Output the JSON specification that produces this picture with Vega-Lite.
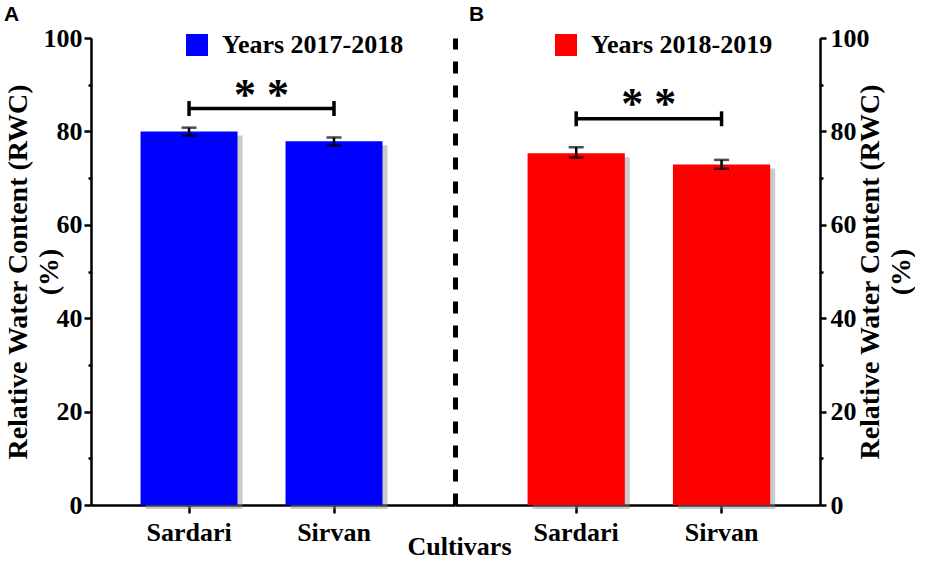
{
  "$schema": "https://vega.github.io/schema/vega-lite/v6.json",
  "background": "white",
  "padding": {"left": 4, "top": 4, "right": 0, "bottom": 0},
  "datasets": {
    "bars": [
      {"panel": "A", "cultivar": "Sardari", "period": "Years 2017-2018", "rwc": 80.0, "lo": 79.1, "hi": 80.8},
      {"panel": "A", "cultivar": "Sirvan", "period": "Years 2017-2018", "rwc": 77.9, "lo": 77.0, "hi": 78.7},
      {"panel": "B", "cultivar": "Sardari", "period": "Years 2018-2019", "rwc": 75.3, "lo": 74.4, "hi": 76.6},
      {"panel": "B", "cultivar": "Sirvan", "period": "Years 2018-2019", "rwc": 72.9, "lo": 72.0, "hi": 73.9}
    ],
    "sig": [
      {"panel": "A", "cultivar": "Sardari", "mid": 84.9, "lo": 83.3, "hi": 86.5},
      {"panel": "A", "cultivar": "Sirvan", "mid": 84.9, "lo": 83.3, "hi": 86.5},
      {"panel": "B", "cultivar": "Sardari", "mid": 82.7, "lo": 81.1, "hi": 84.3},
      {"panel": "B", "cultivar": "Sirvan", "mid": 82.7, "lo": 81.1, "hi": 84.3}
    ],
    "stars": [
      {"panel": "A", "cultivar": "Sardari", "label": "* *", "y": 84.8},
      {"panel": "B", "cultivar": "Sardari", "label": "* *", "y": 82.8}
    ]
  },
  "title": {
    "text": "Cultivars",
    "orient": "bottom",
    "anchor": "middle",
    "font": "'Times New Roman', 'Liberation Serif', serif",
    "fontSize": 26,
    "fontWeight": "bold",
    "color": "black",
    "offset": -11
  },
  "spacing": 0,
  "bounds": "flush",
  "resolve": {"scale": {"color": "independent"}},
  "hconcat": [
    {
      "width": 364,
      "height": 467,
      "title": {"text": "A", "anchor": "start", "frame": "bounds", "font": "'Liberation Sans', Arial, sans-serif", "fontSize": 21, "fontWeight": "bold", "color": "black", "offset": 0},
      "resolve": {"axis": {"y": "independent"}},
      "layer": [
        {
          "data": {"name": "bars"},
          "transform": [{"filter": "datum.panel === 'A'"}],
          "mark": {"type": "bar", "color": "#8c8c8c", "opacity": 0.45, "xOffset": 5, "yOffset": 4, "y2Offset": 4},
          "encoding": {
            "x": {"field": "cultivar", "type": "nominal", "sort": null, "scale": {"paddingInner": 0.331, "paddingOuter": 0.421, "align": 0.406}, "axis": {"title": null, "labelAngle": 0, "tickSize": 8, "labelPadding": 6}},
            "y": {"field": "rwc", "type": "quantitative", "scale": {"domain": [0, 100], "nice": false},
              "axis": {
                "values": [0, 10, 20, 30, 40, 50, 60, 70, 80, 90, 100],
                "labelExpr": "datum.value % 20 === 0 ? datum.label : ''",
                "tickSize": {"condition": {"test": "datum.value % 20 !== 0", "value": 3}, "value": 7},
                "title": ["Relative Water Content (RWC)", "(%)"],
                "titleFontSize": 28,
                "titleLineHeight": 31,
                "titlePadding": -20
              }
            }
          }
        },
        {
          "data": {"name": "bars"},
          "transform": [{"filter": "datum.panel === 'A'"}],
          "mark": {"type": "bar", "opacity": 1},
          "encoding": {
            "x": {"field": "cultivar", "type": "nominal", "sort": null},
            "y": {"field": "rwc", "type": "quantitative", "axis": null},
            "color": {"field": "period", "type": "nominal", "scale": {"range": ["#0000ff"]},
              "legend": {"orient": "none", "legendX": 93, "legendY": -6, "title": null, "symbolType": "square", "symbolSize": 484, "symbolStrokeWidth": 0, "symbolOpacity": 1, "labelOffset": 12, "padding": 0}
            }
          }
        },
        {
          "data": {"name": "bars"},
          "transform": [{"filter": "datum.panel === 'A'"}],
          "mark": {"type": "rule", "color": "black", "strokeWidth": 2.5},
          "encoding": {
            "x": {"field": "cultivar", "type": "nominal", "sort": null},
            "y": {"field": "lo", "type": "quantitative", "axis": null},
            "y2": {"field": "hi"}
          }
        },
        {
          "data": {"name": "bars"},
          "transform": [{"filter": "datum.panel === 'A'"}],
          "mark": {"type": "tick", "color": "black", "size": 15, "thickness": 2.5},
          "encoding": {
            "x": {"field": "cultivar", "type": "nominal", "sort": null},
            "y": {"field": "lo", "type": "quantitative", "axis": null}
          }
        },
        {
          "data": {"name": "bars"},
          "transform": [{"filter": "datum.panel === 'A'"}],
          "mark": {"type": "tick", "color": "black", "size": 15, "thickness": 2.5},
          "encoding": {
            "x": {"field": "cultivar", "type": "nominal", "sort": null},
            "y": {"field": "hi", "type": "quantitative", "axis": null}
          }
        },
        {
          "data": {"name": "sig"},
          "transform": [{"filter": "datum.panel === 'A'"}],
          "mark": {"type": "line", "color": "black", "strokeWidth": 3.5},
          "encoding": {
            "x": {"field": "cultivar", "type": "nominal", "sort": null},
            "y": {"field": "mid", "type": "quantitative", "axis": null}
          }
        },
        {
          "data": {"name": "sig"},
          "transform": [{"filter": "datum.panel === 'A'"}],
          "mark": {"type": "rule", "color": "black", "strokeWidth": 3.5},
          "encoding": {
            "x": {"field": "cultivar", "type": "nominal", "sort": null},
            "y": {"field": "lo", "type": "quantitative", "axis": null},
            "y2": {"field": "hi"}
          }
        },
        {
          "data": {"name": "stars"},
          "transform": [{"filter": "datum.panel === 'A'"}],
          "mark": {"type": "text", "font": "'Times New Roman', 'Liberation Serif', serif", "fontWeight": "bold", "fontSize": 44, "color": "black", "baseline": "alphabetic", "dx": 72.5},
          "encoding": {
            "x": {"field": "cultivar", "type": "nominal", "sort": null},
            "y": {"field": "y", "type": "quantitative", "scale": {"domain": [0, 100], "nice": false},
              "axis": {"orient": "right", "title": null, "labels": false, "ticks": false, "domainDash": [12, 12], "domainWidth": 5}
            },
            "text": {"field": "label"}
          }
        }
      ]
    },
    {
      "width": 365,
      "height": 467,
      "title": {"text": "B", "anchor": "start", "frame": "bounds", "font": "'Liberation Sans', Arial, sans-serif", "fontSize": 21, "fontWeight": "bold", "color": "black", "offset": 0, "dx": 14},
      "layer": [
        {
          "data": {"name": "bars"},
          "transform": [{"filter": "datum.panel === 'B'"}],
          "mark": {"type": "bar", "color": "#8c8c8c", "opacity": 0.45, "xOffset": 5, "yOffset": 4, "y2Offset": 4},
          "encoding": {
            "x": {"field": "cultivar", "type": "nominal", "sort": null, "scale": {"paddingInner": 0.331, "paddingOuter": 0.421, "align": 0.593}, "axis": {"title": null, "labelAngle": 0, "tickSize": 8, "labelPadding": 6}},
            "y": {"field": "rwc", "type": "quantitative", "scale": {"domain": [0, 100], "nice": false},
              "axis": {
                "orient": "right",
                "values": [0, 10, 20, 30, 40, 50, 60, 70, 80, 90, 100],
                "labelExpr": "datum.value % 20 === 0 ? datum.label : ''",
                "tickSize": {"condition": {"test": "datum.value % 20 !== 0", "value": 3}, "value": 6},
                "labelPadding": 4,
                "title": ["Relative Water Content (RWC)", "(%)"],
                "titleFontSize": 28,
                "titleAngle": 270,
                "titleLineHeight": 31,
                "titlePadding": -16
              }
            }
          }
        },
        {
          "data": {"name": "bars"},
          "transform": [{"filter": "datum.panel === 'B'"}],
          "mark": {"type": "bar", "opacity": 1},
          "encoding": {
            "x": {"field": "cultivar", "type": "nominal", "sort": null},
            "y": {"field": "rwc", "type": "quantitative"},
            "color": {"field": "period", "type": "nominal", "scale": {"range": ["#ff0000"]},
              "legend": {"orient": "none", "legendX": 98, "legendY": -6, "title": null, "symbolType": "square", "symbolSize": 484, "symbolStrokeWidth": 0, "symbolOpacity": 1, "labelOffset": 12, "padding": 0}
            }
          }
        },
        {
          "data": {"name": "bars"},
          "transform": [{"filter": "datum.panel === 'B'"}],
          "mark": {"type": "rule", "color": "black", "strokeWidth": 2.5},
          "encoding": {
            "x": {"field": "cultivar", "type": "nominal", "sort": null},
            "y": {"field": "lo", "type": "quantitative"},
            "y2": {"field": "hi"}
          }
        },
        {
          "data": {"name": "bars"},
          "transform": [{"filter": "datum.panel === 'B'"}],
          "mark": {"type": "tick", "color": "black", "size": 15, "thickness": 2.5},
          "encoding": {
            "x": {"field": "cultivar", "type": "nominal", "sort": null},
            "y": {"field": "lo", "type": "quantitative"}
          }
        },
        {
          "data": {"name": "bars"},
          "transform": [{"filter": "datum.panel === 'B'"}],
          "mark": {"type": "tick", "color": "black", "size": 15, "thickness": 2.5},
          "encoding": {
            "x": {"field": "cultivar", "type": "nominal", "sort": null},
            "y": {"field": "hi", "type": "quantitative"}
          }
        },
        {
          "data": {"name": "sig"},
          "transform": [{"filter": "datum.panel === 'B'"}],
          "mark": {"type": "line", "color": "black", "strokeWidth": 3.5},
          "encoding": {
            "x": {"field": "cultivar", "type": "nominal", "sort": null},
            "y": {"field": "mid", "type": "quantitative"}
          }
        },
        {
          "data": {"name": "sig"},
          "transform": [{"filter": "datum.panel === 'B'"}],
          "mark": {"type": "rule", "color": "black", "strokeWidth": 3.5},
          "encoding": {
            "x": {"field": "cultivar", "type": "nominal", "sort": null},
            "y": {"field": "lo", "type": "quantitative"},
            "y2": {"field": "hi"}
          }
        },
        {
          "data": {"name": "stars"},
          "transform": [{"filter": "datum.panel === 'B'"}],
          "mark": {"type": "text", "font": "'Times New Roman', 'Liberation Serif', serif", "fontWeight": "bold", "fontSize": 44, "color": "black", "baseline": "alphabetic", "dx": 72.5},
          "encoding": {
            "x": {"field": "cultivar", "type": "nominal", "sort": null},
            "y": {"field": "y", "type": "quantitative"},
            "text": {"field": "label"}
          }
        }
      ]
    }
  ],
  "config": {
    "view": {"stroke": null},
    "axis": {
      "grid": false,
      "domainColor": "black",
      "domainWidth": 2.5,
      "tickColor": "black",
      "tickWidth": 2.5,
      "labelFont": "'Times New Roman', 'Liberation Serif', serif",
      "labelFontSize": 26,
      "labelFontWeight": "bold",
      "labelColor": "black",
      "labelPadding": 2,
      "titleFont": "'Times New Roman', 'Liberation Serif', serif",
      "titleFontSize": 27,
      "titleFontWeight": "bold",
      "titleColor": "black"
    },
    "legend": {
      "labelFont": "'Times New Roman', 'Liberation Serif', serif",
      "labelFontSize": 26,
      "labelFontWeight": "bold",
      "labelColor": "black",
      "labelLimit": 0
    }
  }
}
